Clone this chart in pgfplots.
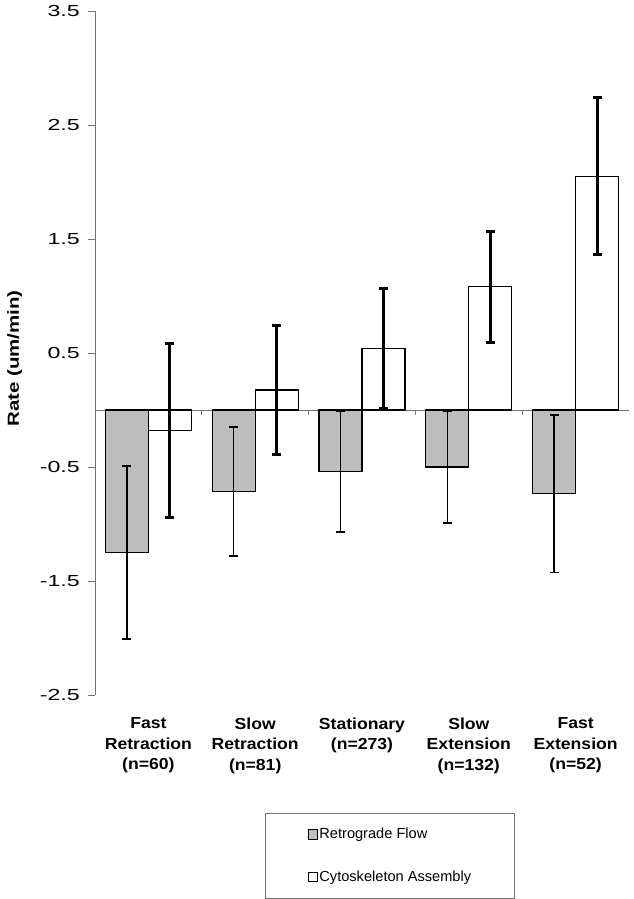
\documentclass[border=0pt]{standalone}
\usepackage{fontspec}
\setmainfont{Liberation Sans}
\usepackage{graphicx}
\usepackage{pgfplots}
\pgfplotsset{compat=1.18}
\definecolor{barGray}{gray}{0.74}
\definecolor{axGray}{gray}{0.45}
\pgfplotsset{sqlegend/.style={legend image code/.code={\draw[##1, line width=1pt] (0pt,-4.75pt) rectangle (9.5pt,4.75pt);}}}
\newcommand{\yt}[1]{\scalebox{1.45}[1]{#1}}
\begin{document}
\begin{tikzpicture}
\begin{axis}[
  at={(95pt,204pt)}, anchor=south west,
  scale only axis, width=534pt, height=684pt,
  xmin=-0.5, xmax=4.5, ymin=-2.5, ymax=3.5,
  axis lines*=left,
  x axis line style={draw=none},
  y axis line style={axGray, line width=0.8pt},
  ybar=0pt, bar width=43pt,
  xtick={0,1,2,3,4},
  xticklabels={{Fast\\Retraction\\(n=60)},{Slow\\Retraction\\(n=81)},{Stationary\\(n=273)},{Slow\\Extension\\(n=132)},{Fast\\Extension\\(n=52)}},
  xticklabel style={align=center, font=\bfseries\fontsize{16}{20.5}\selectfont, xscale=1.1, yshift=-12pt},
  x tick style={draw=none},
  ytick={-2.5,-1.5,-0.5,0.5,1.5,2.5,3.5},
  yticklabels={\yt{-2.5},\yt{-1.5},\yt{-0.5},\yt{0.5},\yt{1.5},\yt{2.5},\yt{3.5}},
  yticklabel style={font=\fontsize{16}{19}\selectfont, inner sep=0pt, xshift=-8pt},
  y tick style={axGray, line width=0.8pt},
  tick align=outside, major tick length=7pt,
  ylabel={\scalebox{1.28}[1]{\bfseries\fontsize{16}{19}\selectfont Rate (um/min)}},
  ylabel style={at={(axis description cs:-0.1504,0.492)}, anchor=center},
  legend style={at={(0.3184,-0.1725)}, anchor=north west, draw=axGray, line width=0.8pt,
    inner xsep=42.5pt, inner ysep=14pt, row sep=28.7pt,
    font=\fontsize{14.6}{17}\selectfont, nodes={inner sep=1pt}},
  legend cell align=left,
]
\draw[axGray, line width=0.8pt] (axis cs:-0.5,0) -- (axis cs:4.5,0);
\draw[axGray, line width=0.8pt]
  (axis cs:0.5,0) -- ++(0pt,-5pt)
  (axis cs:1.5,0) -- ++(0pt,-5pt)
  (axis cs:2.5,0) -- ++(0pt,-5pt)
  (axis cs:3.5,0) -- ++(0pt,-5pt)
  (axis cs:4.5,0) -- ++(0pt,-5pt);
\addplot[fill=barGray, draw=black, line width=1.2pt, sqlegend,
  error bars/.cd, y dir=both, y explicit,
  error bar style={line width=1.3pt, black},
  error mark options={rotate=90, line width=1.5pt, mark size=4.5pt, black}]
  coordinates {
  (0,-1.25) +- (0,0.76)
  (1,-0.715) +- (0,0.566)
  (2,-0.54) +- (0,0.53)
  (3,-0.50) +- (0,0.49)
  (4,-0.735) +- (0,0.69)
  };
\addlegendentry{Retrograde Flow}
\addplot[fill=white, draw=black, line width=1.2pt, sqlegend,
  error bars/.cd, y dir=both, y explicit,
  error bar style={line width=3pt, black},
  error mark options={rotate=90, line width=3pt, mark size=4.5pt, black}]
  coordinates {
  (0,-0.18) +- (0,0.765)
  (1,0.175) +- (0,0.566)
  (2,0.54) +- (0,0.53)
  (3,1.08) +- (0,0.49)
  (4,2.05) +- (0,0.69)
  };
\addlegendentry{Cytoskeleton Assembly}
\end{axis}
\pgfresetboundingbox
\path[use as bounding box] (0,0) rectangle (633pt,899pt);
\end{tikzpicture}
\end{document}
